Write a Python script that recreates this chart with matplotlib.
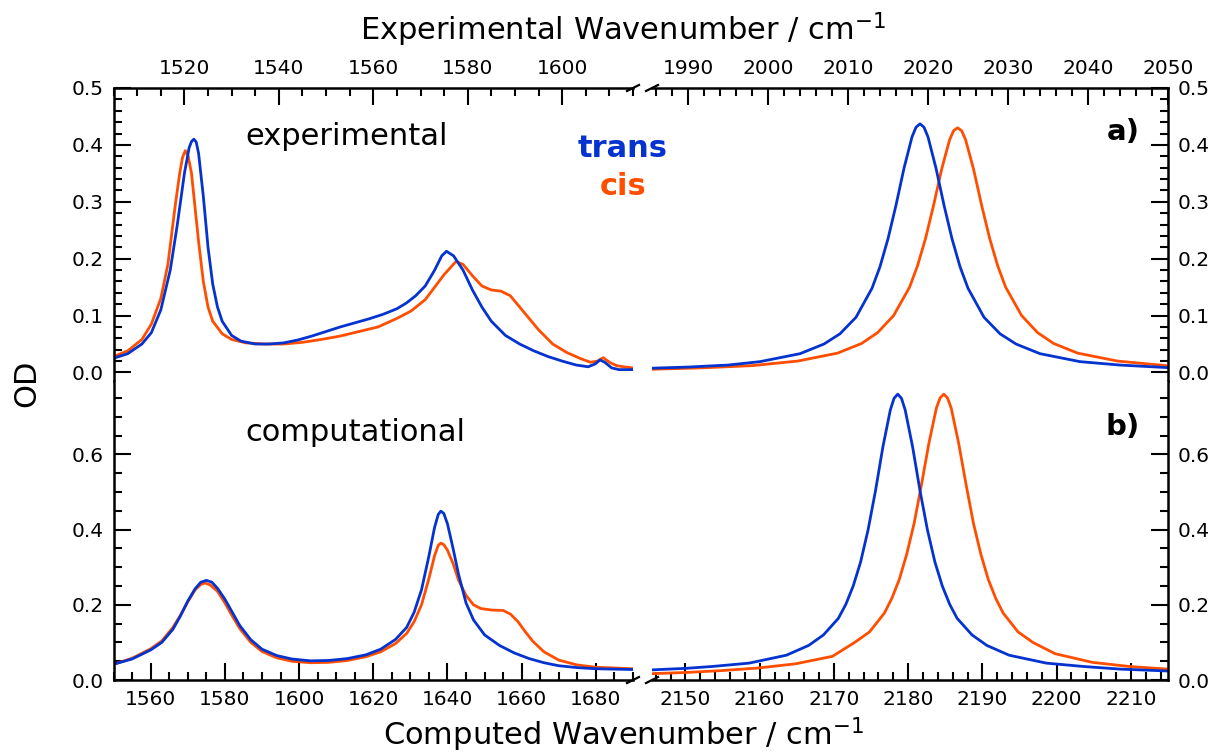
import matplotlib.pyplot as plt
from matplotlib.ticker import MultipleLocator, FormatStrFormatter

# experimental spectra, low-frequency window
exp_lo_trans_x = [1505, 1508, 1511, 1513, 1515, 1517, 1518.5, 1520, 1521, 1521.5, 1522, 1522.5,
                  1523, 1524, 1525, 1526, 1527, 1528, 1530, 1532, 1535, 1538, 1541, 1544, 1547,
                  1550, 1553, 1556, 1559, 1562, 1565, 1567, 1569, 1571, 1573, 1574.5, 1575.5,
                  1577, 1579, 1581, 1583, 1585, 1588, 1591, 1594, 1597, 1600, 1603, 1605.5,
                  1607, 1608, 1609, 1610.5, 1612, 1615]
exp_lo_trans_y = [0.025, 0.033, 0.05, 0.07, 0.11, 0.18, 0.26, 0.35, 0.395, 0.406, 0.41, 0.405,
                  0.385, 0.31, 0.22, 0.155, 0.115, 0.09, 0.065, 0.055, 0.05, 0.05, 0.052, 0.057,
                  0.064, 0.072, 0.08, 0.087, 0.094, 0.102, 0.112, 0.122, 0.135, 0.152, 0.18,
                  0.205, 0.213, 0.205, 0.18, 0.145, 0.115, 0.09, 0.065, 0.05, 0.038, 0.028, 0.02,
                  0.013, 0.01, 0.015, 0.022, 0.018, 0.008, 0.005, 0.005]
exp_lo_cis_x = [1505, 1508, 1511, 1513, 1515, 1516.5, 1518, 1519, 1519.6, 1520.2, 1520.8, 1521.5,
                1522, 1523, 1524, 1525, 1526, 1528, 1530, 1533, 1537, 1541, 1545, 1549, 1553,
                1557, 1561, 1565, 1568, 1571, 1573, 1575, 1577.5, 1579, 1581, 1583, 1585, 1587,
                1589, 1591, 1593, 1595, 1598, 1601, 1604, 1606, 1607.5, 1608.7, 1610, 1611.5,
                1613, 1615]
exp_lo_cis_y = [0.028, 0.038, 0.058, 0.085, 0.13, 0.19, 0.29, 0.35, 0.378, 0.39, 0.38, 0.35,
                0.31, 0.23, 0.16, 0.115, 0.09, 0.068, 0.058, 0.052, 0.05, 0.05, 0.053, 0.058,
                0.064, 0.072, 0.08, 0.095, 0.108, 0.128, 0.15, 0.172, 0.195, 0.19, 0.17, 0.152,
                0.145, 0.143, 0.135, 0.115, 0.095, 0.075, 0.05, 0.035, 0.024, 0.018, 0.02, 0.026,
                0.018, 0.012, 0.01, 0.008]

# experimental spectra, high-frequency window
exp_hi_trans_x = [1985.5, 1990, 1995, 1999, 2004, 2007, 2009, 2011, 2013, 2014, 2015, 2016,
                  2017, 2018, 2018.5, 2019, 2019.5, 2020, 2021, 2022, 2023, 2024, 2025, 2027,
                  2029, 2031, 2034, 2039, 2044, 2050]
exp_hi_trans_y = [0.0075, 0.0095, 0.013, 0.019, 0.033, 0.05, 0.068, 0.097, 0.148, 0.186, 0.235,
                  0.294, 0.359, 0.414, 0.431, 0.437, 0.431, 0.414, 0.359, 0.294, 0.235, 0.186,
                  0.148, 0.097, 0.068, 0.05, 0.033, 0.019, 0.013, 0.0085]
exp_hi_cis_x = [1985.5, 1992, 1998, 2003.7, 2008.7, 2011.7, 2013.7, 2015.7, 2017.7, 2018.7,
                2019.7, 2020.7, 2021.7, 2022.7, 2023.2, 2023.7, 2024.2, 2024.7, 2025.7, 2026.7,
                2027.7, 2028.7, 2029.7, 2031.7, 2033.7, 2035.7, 2038.7, 2043.7, 2050]
exp_hi_cis_y = [0.0056, 0.0082, 0.012, 0.02, 0.034, 0.051, 0.07, 0.1, 0.15, 0.188, 0.236,
                0.294, 0.357, 0.409, 0.425, 0.43, 0.425, 0.409, 0.357, 0.294, 0.236, 0.188,
                0.15, 0.1, 0.07, 0.051, 0.034, 0.02, 0.0117]

# computed spectra, low-frequency window
calc_lo_trans_x = [1550, 1555, 1560, 1563, 1566, 1568, 1570, 1572, 1573.5, 1575, 1576.5, 1578,
                   1580, 1582, 1584, 1587, 1590, 1594, 1598, 1603, 1608, 1613, 1618, 1622, 1626,
                   1629, 1631, 1633, 1635, 1636.5, 1637.5, 1638.2, 1639, 1640, 1641.5, 1643,
                   1645, 1647, 1650, 1654, 1658, 1662, 1666, 1670, 1675, 1680, 1690]
calc_lo_trans_y = [0.042, 0.056, 0.08, 0.1, 0.135, 0.17, 0.21, 0.243, 0.26, 0.265, 0.26, 0.244,
                   0.215, 0.18, 0.145, 0.107, 0.082, 0.065, 0.056, 0.051, 0.052, 0.057, 0.067,
                   0.082, 0.108, 0.14, 0.18, 0.24, 0.33, 0.405, 0.44, 0.449, 0.443, 0.415, 0.35,
                   0.28, 0.205, 0.16, 0.12, 0.092, 0.072, 0.057, 0.046, 0.038, 0.033, 0.03, 0.028]
calc_lo_cis_x = [1550, 1555, 1560, 1563, 1566, 1568, 1570, 1572, 1573.5, 1574.6, 1576, 1578,
                 1580, 1582, 1584, 1587, 1590, 1594, 1598, 1603, 1608, 1613, 1618, 1622, 1626,
                 1629, 1631, 1633, 1635, 1636.5, 1637.5, 1638.2, 1639, 1640, 1641.5, 1643, 1645,
                 1647, 1649, 1652, 1655, 1657, 1659, 1661, 1663, 1666, 1670, 1675, 1680, 1690]
calc_lo_cis_y = [0.042, 0.058, 0.083, 0.104, 0.14, 0.172, 0.208, 0.24, 0.254, 0.258, 0.253,
                 0.236, 0.205, 0.17, 0.137, 0.1, 0.076, 0.059, 0.05, 0.046, 0.047, 0.052, 0.062,
                 0.075, 0.097, 0.124, 0.155, 0.2, 0.27, 0.33, 0.358, 0.364, 0.36, 0.345, 0.31,
                 0.265, 0.225, 0.2, 0.19, 0.186, 0.185, 0.175, 0.155, 0.128, 0.103, 0.075, 0.053,
                 0.04, 0.034, 0.03]

# computed spectra, high-frequency window
calc_hi_trans_x = [2145.5, 2150, 2153.6, 2158.6, 2163.6, 2166.6, 2168.6, 2170.6, 2171.6,
                   2172.6, 2173.6, 2174.6, 2175.6, 2176.6, 2177.6, 2178.1, 2178.6, 2179.1,
                   2179.6, 2180.6, 2181.6, 2182.6, 2183.6, 2184.6, 2185.6, 2186.6, 2188.6,
                   2190.6, 2193.6, 2198.6, 2203.6, 2208.6, 2215]
calc_hi_trans_y = [0.027, 0.031, 0.036, 0.045, 0.066, 0.092, 0.12, 0.164, 0.201, 0.25, 0.314,
                   0.399, 0.503, 0.62, 0.718, 0.749, 0.76, 0.749, 0.718, 0.62, 0.503, 0.399,
                   0.314, 0.25, 0.201, 0.164, 0.12, 0.092, 0.066, 0.045, 0.036, 0.029, 0.024]
calc_hi_cis_x = [2145.5, 2150, 2154.8, 2159.8, 2164.8, 2169.8, 2172.8, 2174.8, 2176.8, 2177.8,
                 2178.8, 2179.8, 2180.8, 2181.8, 2182.8, 2183.8, 2184.3, 2184.8, 2185.3, 2185.8,
                 2186.8, 2187.8, 2188.8, 2189.8, 2190.8, 2191.8, 2192.8, 2194.8, 2196.8, 2199.8,
                 2204.8, 2209.8, 2215]
calc_hi_cis_y = [0.017, 0.02, 0.025, 0.032, 0.043, 0.063, 0.1, 0.128, 0.178, 0.217, 0.267,
                 0.334, 0.416, 0.52, 0.63, 0.723, 0.75, 0.76, 0.75, 0.723, 0.63, 0.52, 0.416,
                 0.334, 0.267, 0.217, 0.178, 0.128, 0.1, 0.07, 0.047, 0.036, 0.029]

BLUE = '#0433d0'
ORANGE = '#ff4e00'
LW = 2.0

plt.rcParams['font.family'] = 'DejaVu Sans'

fig = plt.figure(figsize=(12.11, 7.54), dpi=100)
L, M1, M2, R = 0.0938, 0.5227, 0.5384, 0.9645
T, MID, B = 0.8833, 0.4947, 0.0981
ax_tl = fig.add_axes([L, MID, M1 - L, T - MID])
ax_tr = fig.add_axes([M2, MID, R - M2, T - MID])
ax_bl = fig.add_axes([L, B, M1 - L, MID - B])
ax_br = fig.add_axes([M2, B, R - M2, MID - B])

ax_tl.plot(exp_lo_cis_x, exp_lo_cis_y, color=ORANGE, lw=LW)
ax_tl.plot(exp_lo_trans_x, exp_lo_trans_y, color=BLUE, lw=LW)
ax_tr.plot(exp_hi_cis_x, exp_hi_cis_y, color=ORANGE, lw=LW)
ax_tr.plot(exp_hi_trans_x, exp_hi_trans_y, color=BLUE, lw=LW)
ax_bl.plot(calc_lo_cis_x, calc_lo_cis_y, color=ORANGE, lw=LW)
ax_bl.plot(calc_lo_trans_x, calc_lo_trans_y, color=BLUE, lw=LW)
ax_br.plot(calc_hi_cis_x, calc_hi_cis_y, color=ORANGE, lw=LW)
ax_br.plot(calc_hi_trans_x, calc_hi_trans_y, color=BLUE, lw=LW)

ax_tl.set_xlim(1505, 1615)
ax_tr.set_xlim(1985.5, 2050)
ax_bl.set_xlim(1550, 1690)
ax_br.set_xlim(2145.5, 2215)
for ax in (ax_tl, ax_tr):
    ax.set_ylim(-0.015, 0.5)
    ax.yaxis.set_major_locator(MultipleLocator(0.1))
    ax.yaxis.set_minor_locator(MultipleLocator(0.02))
for ax in (ax_bl, ax_br):
    ax.set_ylim(0, 0.795)
    ax.yaxis.set_major_locator(MultipleLocator(0.2))
    ax.yaxis.set_minor_locator(MultipleLocator(0.05))
for ax in (ax_tl, ax_bl):
    ax.xaxis.set_major_locator(MultipleLocator(20))
    ax.xaxis.set_minor_locator(MultipleLocator(5))
for ax in (ax_tr, ax_br):
    ax.xaxis.set_major_locator(MultipleLocator(10))
    ax.xaxis.set_minor_locator(MultipleLocator(2))

sw = 1.8
for ax in (ax_tl, ax_tr, ax_bl, ax_br):
    for s in ax.spines.values():
        s.set_linewidth(sw)
    ax.yaxis.set_major_formatter(FormatStrFormatter('%.1f'))
    ax.tick_params(which='both', direction='in', width=1.5, labelsize=14.5, pad=7)
    ax.tick_params(which='major', length=12)
    ax.tick_params(which='minor', length=5.5)

# top row: x ticks on top, bottom row: x ticks on bottom
for ax in (ax_tl, ax_tr):
    ax.spines['bottom'].set_visible(False)
    ax.tick_params(axis='x', which='both', top=True, bottom=False,
                   labeltop=True, labelbottom=False)
for ax in (ax_bl, ax_br):
    ax.spines['top'].set_visible(False)
    ax.tick_params(axis='x', which='both', top=False, bottom=True)
for ax in (ax_tl, ax_bl):
    ax.spines['right'].set_visible(False)
    ax.tick_params(axis='y', which='both', left=True, right=False)
for ax in (ax_tr, ax_br):
    ax.spines['left'].set_visible(False)
    ax.tick_params(axis='y', which='both', left=False, right=True,
                   labelleft=False, labelright=True)

# break marks
def slash(ax, xf, yf):
    w, h = ax.bbox.width, ax.bbox.height
    dx, dy = 6 / w, 3 / h
    ax.plot([xf - dx, xf + dx], [yf - dy, yf + dy], transform=ax.transAxes,
            color='k', lw=1.6, clip_on=False)

slash(ax_tl, 1, 1)
slash(ax_bl, 1, 0)
slash(ax_tr, 0, 1)
slash(ax_br, 0, 0)

ax_tl.text(0.253, 0.833, 'experimental', transform=ax_tl.transAxes,
           fontsize=22, ha='left', va='center')
ax_bl.text(0.253, 0.829, 'computational', transform=ax_bl.transAxes,
           fontsize=22, ha='left', va='center')
fig.text(0.5145, 0.8037, 'trans', color=BLUE, fontsize=22, fontweight='bold',
         ha='center', va='center')
fig.text(0.5145, 0.7533, 'cis', color=ORANGE, fontsize=22, fontweight='bold',
         ha='center', va='center')
fig.text(0.941, 0.825, 'a)', fontsize=21, fontweight='bold', ha='right', va='center')
fig.text(0.941, 0.434, 'b)', fontsize=21, fontweight='bold', ha='right', va='center')

fig.text(0.0223, 0.492, 'OD', fontsize=22, rotation=90, ha='center', va='center')
fig.text(0.5145, 0.96, r'Experimental Wavenumber / cm$^{-1}$', fontsize=22,
         ha='center', va='center')
fig.text(0.5145, 0.025, r'Computed Wavenumber / cm$^{-1}$', fontsize=22,
         ha='center', va='center')

fig.savefig('out.png', dpi=100)
